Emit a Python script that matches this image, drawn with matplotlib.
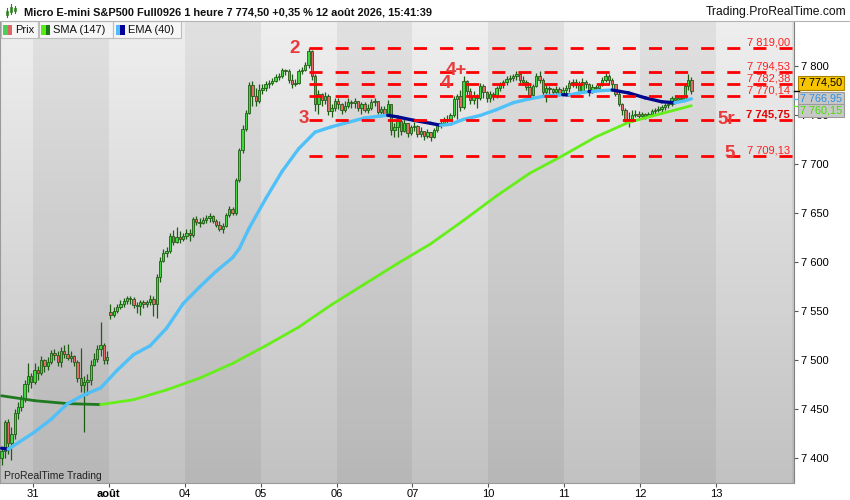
import numpy as np
import matplotlib
matplotlib.use("Agg")
import matplotlib.pyplot as plt
from matplotlib.collections import LineCollection
from matplotlib.patches import Rectangle
from matplotlib.lines import Line2D

plt.rcParams['font.family'] = ['Liberation Sans', 'DejaVu Sans']

# hourly bars, 30 Jul (partial) .. 12 Aug 2026 15:00
opens = [
    7400, 7408, 7437, 7416, 7425, 7446, 7453, 7461, 7476, 7484,
    7478, 7490, 7487, 7500, 7494, 7498, 7508, 7506, 7498, 7510, 7507, 7503, 7505, 7498, 7482, 7475, 7478, 7480, 7495, 7502, 7512, 7516, 7500,
    7549, 7546, 7551, 7555, 7558, 7561, 7564, 7563, 7557, 7556, 7560, 7558, 7560, 7563, 7558, 7585, 7602, 7610, 7612, 7627, 7621, 7626, 7624,
    7627, 7630, 7628, 7644, 7641, 7640, 7643, 7645, 7647, 7642, 7638, 7634, 7637, 7648, 7655, 7651, 7684, 7715, 7736, 7753, 7781, 7770, 7765,
    7776, 7778, 7782, 7783, 7785, 7789, 7790, 7796, 7795, 7786, 7782, 7783, 7795, 7796, 7802, 7816, 7790, 7762, 7772, 7766, 7770, 7755, 7758,
    7765, 7762, 7756, 7760, 7764, 7763, 7765, 7758, 7762, 7756, 7758, 7764, 7765, 7754, 7757, 7752, 7762, 7735, 7738, 7744, 7734, 7742, 7732,
    7738, 7739, 7731, 7734, 7729, 7733, 7728, 7735, 7740, 7742, 7746, 7745, 7750, 7767, 7770, 7759, 7785, 7775, 7766, 7770, 7768, 7780, 7774,
    7768, 7772, 7770, 7778, 7782, 7784, 7787, 7788, 7790, 7792, 7786, 7784, 7779, 7771, 7780, 7790, 7786, 7774, 7778, 7777, 7774, 7777, 7773,
    7776, 7778, 7783, 7784, 7781, 7775, 7784, 7782, 7774, 7779, 7778, 7781, 7786, 7790, 7786, 7782, 7772, 7762, 7756, 7746, 7744, 7750, 7752,
    7749, 7751, 7749, 7752, 7755, 7756, 7757, 7759, 7761, 7762, 7768, 7766, 7768, 7767, 7780, 7786,
]
highs = [
    7412, 7439, 7440, 7432, 7450, 7458, 7465, 7480, 7497, 7487,
    7497, 7494, 7505, 7502, 7504, 7511, 7512, 7510, 7514, 7516, 7517, 7510, 7506, 7500, 7513, 7484, 7486, 7500, 7508, 7516, 7539, 7518, 7510,
    7558, 7555, 7558, 7562, 7564, 7566, 7566, 7565, 7560, 7562, 7562, 7562, 7567, 7566, 7588, 7606, 7614, 7616, 7630, 7633, 7636, 7632, 7630,
    7634, 7634, 7646, 7647, 7645, 7646, 7648, 7650, 7648, 7644, 7642, 7640, 7650, 7658, 7657, 7686, 7717, 7740, 7756, 7784, 7785, 7778, 7782,
    7782, 7785, 7786, 7788, 7792, 7793, 7798, 7797, 7797, 7792, 7787, 7797, 7799, 7805, 7819, 7817, 7792, 7776, 7773, 7774, 7772, 7762, 7768,
    7768, 7763, 7765, 7768, 7766, 7768, 7765, 7764, 7764, 7762, 7767, 7768, 7765, 7760, 7760, 7766, 7762, 7742, 7746, 7746, 7746, 7742, 7740,
    7743, 7740, 7738, 7734, 7736, 7733, 7737, 7742, 7746, 7748, 7750, 7753, 7770, 7772, 7776, 7790, 7786, 7778, 7775, 7772, 7783, 7782, 7775,
    7775, 7774, 7780, 7784, 7786, 7790, 7791, 7792, 7795, 7793, 7790, 7786, 7782, 7782, 7793, 7795, 7788, 7782, 7780, 7778, 7780, 7779, 7779,
    7781, 7786, 7787, 7787, 7785, 7788, 7786, 7783, 7782, 7781, 7783, 7789, 7793, 7792, 7788, 7782, 7774, 7763, 7758, 7754, 7756, 7756, 7755,
    7754, 7753, 7754, 7757, 7758, 7760, 7761, 7763, 7764, 7770, 7771, 7770, 7770, 7783, 7792, 7789,
]
lows = [
    7393, 7400, 7405, 7398, 7420, 7440, 7448, 7458, 7468, 7472,
    7476, 7480, 7485, 7488, 7490, 7496, 7500, 7494, 7493, 7503, 7500, 7498, 7494, 7478, 7468, 7427, 7465, 7475, 7494, 7498, 7505, 7496, 7496,
    7542, 7544, 7548, 7553, 7555, 7558, 7558, 7554, 7548, 7546, 7554, 7555, 7557, 7545, 7543, 7580, 7600, 7606, 7610, 7618, 7620, 7620, 7622,
    7624, 7622, 7626, 7638, 7636, 7639, 7640, 7641, 7640, 7636, 7632, 7630, 7636, 7646, 7648, 7648, 7682, 7712, 7734, 7752, 7760, 7760, 7763,
    7772, 7775, 7778, 7781, 7784, 7786, 7788, 7791, 7783, 7778, 7780, 7782, 7792, 7795, 7798, 7786, 7755, 7752, 7760, 7762, 7750, 7748, 7755,
    7757, 7752, 7754, 7758, 7758, 7758, 7755, 7752, 7754, 7753, 7756, 7760, 7752, 7751, 7749, 7750, 7730, 7728, 7728, 7730, 7733, 7728, 7730,
    7734, 7728, 7728, 7725, 7727, 7724, 7727, 7733, 7737, 7740, 7742, 7744, 7748, 7746, 7755, 7757, 7770, 7762, 7762, 7758, 7766, 7768, 7764,
    7764, 7766, 7768, 7775, 7778, 7781, 7784, 7785, 7786, 7783, 7781, 7776, 7768, 7770, 7779, 7783, 7770, 7764, 7772, 7770, 7772, 7770, 7771,
    7770, 7774, 7779, 7778, 7772, 7774, 7778, 7770, 7773, 7775, 7777, 7780, 7784, 7781, 7777, 7770, 7760, 7750, 7742, 7738, 7743, 7748, 7746,
    7747, 7746, 7748, 7750, 7752, 7754, 7754, 7756, 7758, 7760, 7763, 7764, 7764, 7765, 7776, 7772,
]
closes = [
    7408, 7437, 7416, 7425, 7446, 7453, 7461, 7476, 7484, 7478,
    7490, 7487, 7500, 7494, 7498, 7508, 7506, 7498, 7510, 7507, 7503, 7505, 7498, 7482, 7475, 7478, 7480, 7495, 7502, 7512, 7516, 7500, 7504,
    7546, 7551, 7555, 7558, 7561, 7564, 7563, 7557, 7556, 7560, 7558, 7560, 7563, 7558, 7585, 7602, 7610, 7612, 7627, 7621, 7626, 7624, 7627,
    7630, 7628, 7644, 7641, 7640, 7643, 7645, 7647, 7642, 7638, 7634, 7637, 7648, 7655, 7651, 7684, 7715, 7736, 7753, 7781, 7770, 7765, 7776,
    7778, 7782, 7783, 7785, 7789, 7790, 7796, 7795, 7786, 7782, 7783, 7795, 7796, 7802, 7816, 7790, 7762, 7772, 7766, 7770, 7755, 7758, 7765,
    7762, 7756, 7760, 7764, 7763, 7765, 7758, 7762, 7756, 7758, 7764, 7765, 7754, 7757, 7752, 7762, 7735, 7738, 7744, 7734, 7742, 7732, 7738,
    7739, 7731, 7734, 7729, 7733, 7728, 7735, 7740, 7742, 7746, 7745, 7750, 7767, 7770, 7759, 7785, 7775, 7766, 7770, 7768, 7780, 7774, 7768,
    7772, 7770, 7778, 7782, 7784, 7787, 7788, 7790, 7792, 7786, 7784, 7779, 7771, 7780, 7790, 7786, 7774, 7778, 7777, 7774, 7777, 7773, 7776,
    7778, 7783, 7784, 7781, 7775, 7784, 7782, 7774, 7779, 7778, 7781, 7786, 7790, 7786, 7782, 7772, 7762, 7756, 7746, 7744, 7750, 7752, 7749,
    7751, 7749, 7752, 7755, 7756, 7757, 7759, 7761, 7762, 7768, 7766, 7768, 7767, 7780, 7786, 7774.5,
]

# indicators (bar number, value)
ema_bar = [0, 2, 5, 10, 15, 20, 25, 30, 35, 40, 45, 50, 55, 60, 65, 70, 72, 75, 80, 85, 90,
           95, 100, 105, 110, 115, 117, 120, 125, 130, 133, 136, 140, 145, 150, 155, 160, 165, 170, 172, 175,
           178, 179, 180, 185, 190, 195, 200, 204, 207, 209]
ema_val = [7410.5, 7409.5, 7416, 7427, 7440, 7456, 7465, 7472, 7490, 7506, 7515, 7533, 7558, 7575, 7591, 7605, 7614, 7635, 7665, 7693, 7716,
           7733, 7738.5, 7743, 7747.5, 7749.5, 7750.2, 7748.5, 7745, 7742, 7740, 7741, 7746, 7750, 7756, 7763, 7767, 7770, 7771.2, 7771.0, 7773,
           7774.4, 7774.3, 7775, 7776, 7773, 7768, 7764, 7763, 7765, 7767]
sma_bar = [0, 10, 20, 30, 40, 50, 60, 70, 80, 90, 100, 110, 120, 130, 140, 150, 160, 170, 180, 190, 200, 209]
sma_val = [7464, 7459, 7456, 7455, 7460, 7470, 7482, 7497, 7515, 7534, 7557, 7578, 7599, 7619, 7643, 7668, 7691, 7709, 7728, 7743, 7752, 7760]

levels = [7819.00, 7794.53, 7782.38, 7770.14, 7745.75, 7709.13]
level_from = 93.15          # the bar of the top "2"
waves = [("2", 88.9, 7818.6), ("3", 91.6, 7747.0), ("4+", 137.7, 7796.0),
         ("4", 134.7, 7782.6), ("5r", 219.7, 7746.0), ("5", 220.6, 7711.5)]

day_labels = ['31', 'août', '04', '05', '06', '07', '10', '11', '12', '13']
bars_per_day = 23
first_day = 9.5

last_price, ema_last, sma_last = 7774.50, 7766.95, 7760.15
title = "Micro E-mini S&P500 Full0926 1 heure 7 774,50 +0,35 % 12 août 2026, 15:41:39"


def fr(v, dec=2):
    return f"{v:,.{dec}f}".replace(",", " ").replace(".", ",")


W, H = 850, 500
fig = plt.figure(figsize=(W / 100, H / 100), dpi=100)
ax = fig.add_axes([0, 17 / H, 794 / W, 462 / H])
x0, x1 = -0.48, 240.1
y0, y1 = 7375.0, 7846.4
ax.set_xlim(x0, x1)
ax.set_ylim(y0, y1)

# background: vertical gradient + darker alternate days
g = np.linspace(0, 1, 256)[:, None, None]
top = np.array([0.935, 0.935, 0.935])
bot = np.array([0.76, 0.76, 0.76])
ax.imshow(top + (bot - top) * g, extent=[x0, x1, y0, y1], aspect='auto', zorder=0, origin='upper')
for k in range(-1, 11):
    if k % 2 == 0:
        ax.axvspan(first_day + bars_per_day * k, first_day + bars_per_day * (k + 1),
                   color='black', alpha=0.055, lw=0, zorder=0.5)

o = np.array(opens, float)
h = np.array(highs, float)
l = np.array(lows, float)
c = np.array(closes, float)
idx = np.arange(len(c))
up = c >= o
WICK = '#1f5c14'
ax.vlines(idx, l, h, color=WICK, lw=0.9, zorder=3)
ax.bar(idx, c - o, bottom=o, width=0.72, color=np.where(up, '#3fd83f', '#e56b6b'),
       edgecolor=WICK, linewidth=0.6, zorder=4)


def slope_line(xs, ys, c_up, c_dn, lw):
    pts = np.column_stack([xs, ys])
    segs = np.stack([pts[:-1], pts[1:]], axis=1)
    cols = [c_up if b >= a else c_dn for a, b in zip(ys[:-1], ys[1:])]
    ax.add_collection(LineCollection(segs, colors=cols, linewidths=lw,
                                     capstyle='round', joinstyle='round', zorder=5))


slope_line(sma_bar, sma_val, '#66ee1a', '#1f7a1f', 2.0)
slope_line(ema_bar, ema_val, '#4fc0f8', '#00088c', 2.4)

# horizontal levels
ax.hlines(levels, level_from, x1, colors='#ff0000', lw=2.0, linestyles=(0, (4.7, 4.7)), zorder=6)
for v in levels:
    bold = abs(v - 7745.75) < 0.01
    ax.annotate(fr(v), xy=(238.9, v), xytext=(0, 1.6), textcoords='offset points',
                ha='right', va='baseline', fontsize=8, color='#e00000' if bold else '#ff2020',
                fontweight='bold' if bold else 'normal', zorder=7)
for txt, xb, yv in waves:
    ax.text(xb, yv, txt, ha='center', va='center', fontsize=13.5, fontweight='bold',
            color='#e83a3a', zorder=7)

ax.text(0.6, 7379.5, "ProRealTime Trading", fontsize=7.5, color='#222222', va='baseline', zorder=7)

# axes
ax.spines['top'].set_visible(False)
ax.spines['left'].set_color('#9a9a9a')
ax.spines['right'].set_color('#808080')
ax.spines['bottom'].set_color('#9a9a9a')
for s in ['left', 'right', 'bottom']:
    ax.spines[s].set_linewidth(0.8)
ax.yaxis.tick_right()
ax.set_yticks(np.arange(7400, 7801, 50))
ax.set_yticklabels([fr(v, 0) for v in np.arange(7400, 7801, 50)])
ax.tick_params(axis='y', length=3, width=0.8, labelsize=8, pad=2, color='#555555')
ax.set_xticks([first_day + bars_per_day * k for k in range(len(day_labels))])
ax.set_xticklabels(day_labels)
ax.tick_params(axis='x', length=3, width=0.8, labelsize=8, pad=1.5, color='#555555')
for t in ax.get_xticklabels():
    if t.get_text() == 'août':
        t.set_fontweight('bold')

# price boxes on the scale
for v, col, dy, fc, ec, tc in [(last_price, 'black', 6.1, '#f6c400', '#a88400', 'black'),
                               (ema_last, '#4fc0f8', 0.0, '#c8c8c8', '#9a9a9a', '#2d8fe0'),
                               (sma_last, '#66ee1a', -3.6, '#c8c8c8', '#9a9a9a', '#44dd00')]:
    ax.plot([1.0, 1.006], [v, v], color=col, lw=1, transform=ax.get_yaxis_transform(),
            clip_on=False, zorder=9)
    ax.annotate(fr(v), xy=(1.0, v), xycoords=('axes fraction', 'data'), xytext=(4.3, dy),
                textcoords='offset points', ha='left', va='center', fontsize=7.8, color=tc,
                bbox=dict(boxstyle='square,pad=0.18', fc=fc, ec=ec, lw=0.8),
                zorder=10, annotation_clip=False)


# header and legend strip (pixel coordinates)
def px_rect(x, y, w, hh, **kw):
    fig.add_artist(Rectangle((x / W, 1 - (y + hh) / H), w / W, hh / H, transform=fig.transFigure, **kw))


fig.add_artist(Line2D([0, 1], [1 - 21 / H] * 2, color='#b4b4b4', lw=0.8, transform=fig.transFigure))
for cx, yb, yt, bb, bt in [(7, 17, 8, 15, 11), (11, 14, 4, 12, 7), (15, 13, 6, 11, 8)]:
    fig.add_artist(Line2D([cx / W] * 2, [1 - yb / H, 1 - yt / H], color='#2e7d1e', lw=0.8,
                          transform=fig.transFigure))
    px_rect(cx - 1.3, bt, 2.6, bb - bt, fc='#5ccf5c', ec='#2e7d1e', lw=0.5)

t_title = fig.text(24 / W, 1 - 12.5 / H, title, fontsize=8.6, fontweight='bold', va='center', color='#111111')
t_site = fig.text(846 / W, 1 - 12.5 / H, "Trading.ProRealTime.com", fontsize=9, ha='right',
                  va='center', color='#111111')
fig.canvas.draw()
rend = fig.canvas.get_renderer()
for t, target in [(t_title, 407), (t_site, 141)]:
    wpx = t.get_window_extent(renderer=rend).width
    t.set_fontsize(t.get_fontsize() * target / wpx)

legend = [("Prix", '#4ccf5a', '#e06666', 0, 37),
          ("SMA (147)", '#55ee11', '#1a7a1a', 38, 74),
          ("EMA (40)", '#55bbff', '#000099', 113, 67)]
for name, ca, cb, lx, lw_ in legend:
    px_rect(lx + 0.5, 21.5, lw_, 16.5, fc='#f6f6f6', ec='#bdbdbd', lw=0.8)
    px_rect(lx + 3, 25, 4.5, 10, fc=ca, ec='none')
    px_rect(lx + 7.5, 25, 4.5, 10, fc=cb, ec='none')
    fig.text((lx + 15) / W, 1 - 30 / H, name, fontsize=8, va='center', color='#111111')

fig.savefig("out.png", dpi=100)
